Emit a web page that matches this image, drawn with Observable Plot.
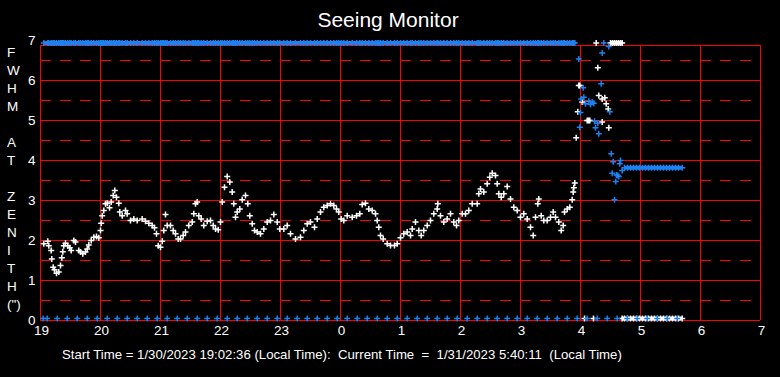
<!DOCTYPE html>
<html><head><meta charset="utf-8">
<script src="https://cdn.jsdelivr.net/npm/d3@7"></script>
<script src="https://cdn.jsdelivr.net/npm/@observablehq/plot@0.6"></script>
<style>
html,body{margin:0;padding:0;background:#000;}
#wrap{position:relative;width:780px;height:377px;background:#000;overflow:hidden;font-family:"Liberation Sans",Arial,sans-serif;color:#fff;}
#chart{position:absolute;left:0;top:0;}
#title{position:absolute;left:0;width:776px;top:8px;height:24px;line-height:24px;text-align:center;font-size:21px;}
#ylab{position:absolute;left:7px;top:44px;font-size:13.5px;}
#ylab div{height:18px;line-height:18px;white-space:pre;}
#foot{position:absolute;left:62px;top:346px;line-height:18px;font-size:13.2px;white-space:pre;}
</style>
</head><body>
<div id="wrap">
  <div id="chart"></div>
  <div id="title"></div>
  <div id="ylab"></div>
  <div id="foot"></div>
</div>
<script>
// ---- text ----
const titleText = "Seeing Monitor";
const yLabelLetters = ["F","W","H","M"," ","A","T"," ","Z","E","N","I","T","H","(\")"];
const footerText = "Start Time = 1/30/2023 19:02:36 (Local Time):  Current Time  =  1/31/2023 5:40:11  (Local Time)";

// ---- axes ----
const hourTicks = [19,20,21,22,23,24,25,26,27,28,29,30,31];
const hourLabels = ["19","20","21","22","23","0","1","2","3","4","5","6","7"];
const yTicks = [0,1,2,3,4,5,6,7];
const yLabels = ["0","1","2","3","4","5","6","7"];
const solidLevels = [0,1,2,3,4,5,6];
const dashedLevels = [0.5,1.5,2.5,3.5,4.5,5.5,6.5];
const frameTop = 6.875;

// ---- data: [minutes after 19:00, FWHM] ----
const whiteSeeing = [
[3.3,1.92],[7.3,1.98],[8.3,1.87],[10.7,1.75],[11.3,1.54],[12.7,1.33],[14,1.27],[16,1.18],[18.3,1.21],[20,1.375],
[21.3,1.57],[22.3,1.72],[23.3,1.87],[25,1.93],[27.3,1.87],[29.3,1.82],[30.7,1.75],[33.3,2.0],[35,1.96],[38.3,1.75],
[40,1.71],[42.3,1.67],[45,1.71],[46.7,1.79],[48.3,1.89],[50.7,2.0],[53.3,2.08],[56,2.1],[58.3,2.07],[60,2.25],
[60.7,2.43],[61.7,2.62],[63.3,2.75],[65,2.92],[66.7,2.93],[69,2.82],[70.7,2.96],[72.7,3.125],[74.3,3.25],[76,3.08],
[78.3,2.93],[79.3,2.71],[81.7,2.62],[85,2.75],[86.7,2.67],[90,2.5],[93.3,2.54],[96.7,2.5],[101.7,2.54],[105,2.48],
[108.3,2.43],[111.7,2.375],[114,2.32],[116,2.17],[117.7,1.87],[120,1.83],[121.7,1.98],[123.3,2.25],[125,2.65],[126.7,2.375],
[130,2.375],[132.7,2.25],[135,2.17],[137.7,2.04],[140,2.04],[142.7,2.125],[145,2.21],[148.3,2.375],[151.7,2.46],[153.3,2.67],
[155,2.92],[156.7,2.96],[158.3,2.62],[160.7,2.54],[163.3,2.375],[166.7,2.48],[170,2.5],[172.7,2.375],[175,2.29],[177.7,2.27],
[180,2.46],[181.7,2.96],[184,3.33],[186.7,3.6],[189.3,3.46],[191.7,3.21],[193.3,2.92],[195,2.58],[196.7,2.71],[199.3,2.79],
[201.7,3.02],[205,3.125],[207.3,2.92],[209.3,2.62],[211.7,2.42],[214,2.25],[216.7,2.21],[220,2.17],[223.3,2.29],[226.7,2.46],
[230,2.5],[233.3,2.65],[236.7,2.46],[239.3,2.29],[243.3,2.29],[246.7,2.375],[250,2.17],[255,2.04],[260,2.08],[263.3,2.25],
[266.7,2.42],[270,2.46],[274,2.33],[276.7,2.54],[280,2.71],[283.3,2.83],[286.7,2.875],[290,2.92],[293.3,2.875],[296,2.79],
[298.3,2.71],[300.7,2.54],[303.3,2.5],[306.7,2.62],[311.7,2.58],[316,2.62],[319.3,2.67],[321.7,2.9],[325,2.93],[328.3,2.79],
[331.7,2.75],[335,2.67],[336.7,2.5],[338.3,2.33],[340,2.125],[342.7,2.04],[346.7,1.92],[350,1.875],[354,1.875],[356.7,1.92],
[360,2.07],[363.3,2.17],[366.7,2.21],[370,2.125],[371.7,2.29],[375,2.46],[378.3,2.25],[380.7,2.125],[383.3,2.25],[386.7,2.375],
[390,2.5],[393.3,2.67],[396.7,2.79],[397.3,2.92],[400,2.62],[403.3,2.46],[406.7,2.54],[410,2.67],[413.3,2.46],[416,2.375],
[418.3,2.5],[421.7,2.67],[425,2.67],[428.3,2.75],[431.7,2.92],[436.7,2.92],[438.3,3.17],[440,3.29],[443.3,3.21],[446.7,3.42],
[449.3,3.58],[451.7,3.68],[455,3.625],[456.7,3.42],[458.3,3.17],[460.7,3.08],[463.3,3.17],[466.7,3.35],[470,3.04],[473.3,2.83],
[476.7,2.75],[480,2.58],[483.3,2.67],[486.7,2.54],[490,2.33],[492.7,2.125],[495,2.58],[497.3,2.92],[498.3,3.04],[500.7,2.62],
[503.3,2.5],[506.7,2.5],[510,2.58],[512.7,2.71],[515,2.58],[518.3,2.46],[520.7,2.25],[522.7,2.375],[524,2.71],[526.7,2.79],
[529.3,2.83],[531.7,3.02],[532.7,3.21],[533.3,3.32],[534.3,3.44]
];
const whiteLate = [
[535.7,4.57],[537.3,5.22],[538.3,5.875],[539.3,5.875],[541.7,5.46],[546.7,5.0],[548,5.0],[549.3,5.0],[557.3,6.32],[558.3,5.625],
[561.7,5.54],[564.3,5.57],[565.7,5.42],[567.7,5.29],[561.7,4.96],[568.3,4.82]
];
const whiteTopMin = [555.7,570,572,574,576,578,580,581.7];
const whiteBottomMin = [544,553];
const lateBlockMin = [581.7,584,587,590,593,596,599,602,605,608,611,614,617,620,623,626,629,632,635,638,641.7];
const blueLate = [
[538.3,6.54],[561.7,6.69],[568.3,6.85],[560.7,5.92],[542.7,5.82],[543.3,5.58],[540.7,5.54],[545,5.42],[548.3,5.48],[551.7,5.46],
[553.3,5.43],[550,5.4],[569.3,5.22],[540,5.2],[554,4.98],[557.3,4.93],[555,4.82],[539.3,4.83],[558.3,4.67],[570.7,4.17],
[572.7,3.97],[580,4.0],[579.3,3.92],[571.7,3.68],[577.3,3.625],[581.7,3.75],[576,3.64],[578.3,3.6],[575.3,3.475],[574,3.02]
];
const blueTopExtraMin = [563.3];
const blueBlockLevel = 3.82;
const topLevel = 6.94;
const bottomLevel = 0.05;
const blueBottomMin = [2.6,6.7,16.7,26.7,36.7,46.7,56.7,66.7,76.7,86.7,96.7,106.7,116.7,126.7,136.7,146.7,156.7,166.7,176.7,186.7,
196.7,206.7,216.7,226.7,236.7,246.7,256.7,266.7,276.7,286.7,296.7,306.7,316.7,326.7,336.7,346.7,356.7,366.7,376.7,386.7,
396.7,406.7,416.7,426.7,436.7,446.7,456.7,466.7,476.7,486.7,496.7,506.7,516.7,526.7,536.7,546.7,556.7,566.7,576.7,586.7,
596.7,606.7,616.7,626.7,636.7];

const WHITE = "#ffffff", BLUE = "#1e82f0", RED = "#ff0000";
const H = m => 19 + m / 60;

const whitePts = [
  ...whiteSeeing.map(([m,v]) => ({t:H(m), v})),
  ...whiteLate.map(([m,v]) => ({t:H(m), v})),
  ...whiteTopMin.map(m => ({t:H(m), v:topLevel})),
  ...whiteBottomMin.map(m => ({t:H(m), v:bottomLevel})),
  ...lateBlockMin.map(m => ({t:H(m), v:bottomLevel}))
];
const blueBlock = lateBlockMin.filter(m => m > 583);
const bluePts = [
  ...whiteSeeing.map(([m]) => ({t:H(m), v:topLevel})),
  ...blueTopExtraMin.map(m => ({t:H(m), v:topLevel})),
  ...blueLate.map(([m,v]) => ({t:H(m), v})),
  ...blueBlock.map(m => ({t:H(m), v:blueBlockLevel})),
  ...blueBottomMin.map(m => ({t:H(m), v:bottomLevel}))
];
// dense runs of markers merge into solid bands
const bands = [
  {x1: H(whiteSeeing[0][0]), x2: H(whiteSeeing[whiteSeeing.length-1][0]), y: topLevel, c: BLUE},
  {x1: H(whiteTopMin[1]), x2: H(whiteTopMin[whiteTopMin.length-1]), y: topLevel, c: WHITE},
  {x1: H(lateBlockMin[0]), x2: H(lateBlockMin[lateBlockMin.length-1]), y: bottomLevel, c: WHITE},
  {x1: H(blueBlock[0]), x2: H(blueBlock[blueBlock.length-1]), y: blueBlockLevel, c: BLUE}
];

const thinPlus = {
  draw(ctx, size) {
    const r = Math.sqrt(size / Math.PI);
    ctx.moveTo(-r, 0); ctx.lineTo(r, 0);
    ctx.moveTo(0, -r); ctx.lineTo(0, r);
  }
};

const chart = Plot.plot({
  width: 780, height: 377,
  marginLeft: 40, marginRight: 20, marginTop: 40, marginBottom: 57,
  style: {background: "#000", color: "#fff", fontFamily: "'Liberation Sans', Arial, sans-serif", fontSize: "13px"},
  x: {domain: [19, 31]},
  y: {domain: [0, 7]},
  marks: [
    Plot.ruleX(hourTicks, {x: d => d, y1: 0, y2: frameTop, stroke: RED, strokeWidth: 1}),
    Plot.ruleY([...solidLevels, frameTop], {y: d => d, x1: 19, x2: 31, stroke: RED, strokeWidth: 1}),
    Plot.ruleY(dashedLevels, {y: d => d, x1: 19, x2: 31, stroke: RED, strokeWidth: 1, strokeDasharray: "11,9"}),
    Plot.axisX({ticks: hourTicks, tickSize: 0, tickPadding: 5, label: null, fontSize: 13.5,
      tickFormat: d => hourLabels[hourTicks.indexOf(d)], dx: 1}),
    Plot.axisY({ticks: yTicks, tickSize: 0, tickPadding: 5, label: null, fontSize: 13.5,
      tickFormat: d => yLabels[yTicks.indexOf(d)]}),
    Plot.ruleY(bands.filter(b => b.c === WHITE), {y: "y", x1: "x1", x2: "x2", stroke: "c", strokeWidth: 4}),
    Plot.dot(whitePts, {x: "t", y: "v", symbol: thinPlus, r: 3, stroke: WHITE, fill: "none", strokeWidth: 1.5}),
    Plot.ruleY(bands.filter(b => b.c === BLUE), {y: "y", x1: "x1", x2: "x2", stroke: "c", strokeWidth: 4}),
    Plot.dot(bluePts, {x: "t", y: "v", symbol: thinPlus, r: 3, stroke: BLUE, fill: "none", strokeWidth: 1.5})
  ]
});
document.getElementById("chart").appendChild(chart);

document.getElementById("title").textContent = titleText;
document.getElementById("foot").textContent = footerText;
const yl = document.getElementById("ylab");
for (const ch of yLabelLetters) {
  const d = document.createElement("div");
  d.textContent = ch;
  yl.appendChild(d);
}
</script>
</body></html>
